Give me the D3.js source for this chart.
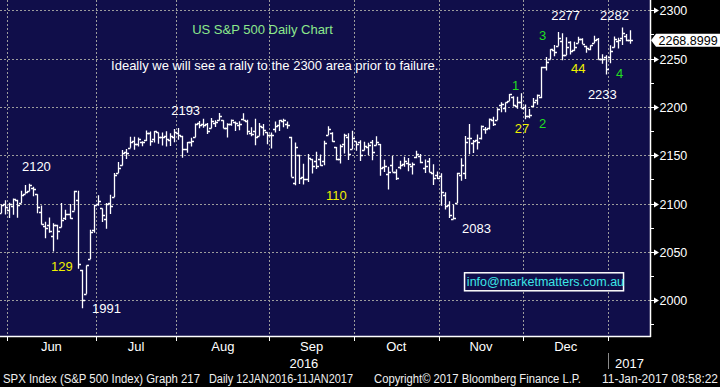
<!DOCTYPE html>
<html>
<head>
<meta charset="utf-8">
<script src="https://cdn.jsdelivr.net/npm/d3@7"></script>
<style>
  html, body { margin: 0; padding: 0; background: #000; }
  svg { display: block; font-family: "Liberation Sans", Arial, sans-serif; }
</style>
</head>
<body>
<div id="chart"></div>
<script>
// trading days shown: 2 in late May, then Jun..Dec, then Jan 2017
const leadDays = 2;
const monthNames = ["Jun", "Jul", "Aug", "Sep", "Oct", "Nov", "Dec", ""];
const monthDays = [22, 20, 23, 21, 21, 21, 21, 6];

// OHLC, 27 May 2016 -> 10 Jan 2017
const opens = [
  2090.1, 2100.1,
  2093.9, 2097.7, 2104.1, 2100.8, 2110.2, 2112.7, 2115.7, 2109.6, 2091.8, 2076.7, 2077.6, 2066.4, 2078.2, 2075.6, 2085.2, 2089.8, 2092.8, 2103.8, 2031.5, 2006.7, 2042.7, 2073.2,
  2099.3, 2095.1, 2084.4, 2100.4, 2107.0, 2131.7, 2139.5, 2153.8, 2157.9, 2165.1, 2162.0, 2163.8, 2166.1, 2172.9, 2166.5, 2173.7, 2169.0, 2169.8, 2166.1, 2168.8,
  2173.2, 2169.9, 2156.8, 2163.5, 2168.8, 2183.8, 2182.2, 2182.8, 2178.0, 2183.7, 2186.1, 2186.2, 2177.8, 2181.9, 2184.2, 2181.6, 2187.8, 2185.1, 2173.3, 2175.1, 2170.2, 2179.5, 2173.6,
  2171.3, 2177.5, 2181.6, 2185.2, 2182.8, 2169.1, 2120.9, 2150.5, 2127.9, 2125.4, 2146.5, 2144.0, 2145.9, 2144.6, 2170.9, 2173.3, 2158.5, 2146.0, 2161.9, 2168.9, 2156.5,
  2164.3, 2163.4, 2155.2, 2158.2, 2164.2, 2160.4, 2161.4, 2137.7, 2130.3, 2139.7, 2133.0, 2138.3, 2140.8, 2142.5, 2139.4, 2148.5, 2149.7, 2137.0, 2144.1, 2132.2, 2129.8,
  2128.7, 2109.4, 2098.8, 2083.8, 2100.6, 2129.9, 2131.6, 2167.5, 2162.7, 2165.6, 2168.3, 2177.5, 2178.6, 2186.9, 2186.4, 2201.6, 2198.6, 2206.3, 2210.2, 2200.8, 2205.0,
  2200.2, 2191.1, 2200.7, 2207.3, 2210.7, 2241.1, 2249.7, 2258.8, 2263.3, 2268.4, 2253.8, 2266.8, 2259.2, 2266.5, 2270.5, 2262.9, 2260.3, 2266.2, 2270.2, 2249.5, 2251.6,
  2251.6, 2261.6, 2268.2, 2271.1, 2273.6, 2269.7
];
const highs = [
  2099.1, 2103.5,
  2101.0, 2105.3, 2104.1, 2113.4, 2119.2, 2120.6, 2117.6, 2109.6, 2098.1, 2081.3, 2085.7, 2079.6, 2078.2, 2100.7, 2093.7, 2099.7, 2113.3, 2113.3, 2031.5, 2036.1, 2073.1, 2098.9,
  2108.7, 2095.1, 2100.7, 2109.1, 2131.7, 2143.2, 2155.4, 2156.5, 2169.1, 2169.1, 2168.4, 2164.6, 2175.6, 2174.6, 2175.1, 2173.7, 2173.5, 2175.0, 2172.9, 2177.1,
  2178.3, 2170.2, 2163.8, 2168.2, 2182.9, 2185.4, 2187.7, 2183.4, 2188.5, 2186.3, 2193.8, 2186.2, 2183.1, 2187.0, 2185.0, 2185.2, 2193.4, 2186.7, 2179.0, 2187.9, 2183.5, 2182.3, 2173.8,
  2173.6, 2184.9, 2186.6, 2187.9, 2184.9, 2169.1, 2163.3, 2150.5, 2141.3, 2151.3, 2146.5, 2153.6, 2150.8, 2165.1, 2180.0, 2173.8, 2158.5, 2161.1, 2172.4, 2172.7, 2175.3,
  2164.4, 2165.5, 2164.0, 2162.9, 2165.9, 2169.6, 2161.6, 2145.4, 2138.2, 2149.2, 2135.6, 2144.4, 2148.4, 2147.2, 2142.6, 2154.8, 2151.4, 2145.7, 2147.1, 2140.7, 2133.3,
  2131.5, 2111.8, 2102.6, 2099.1, 2132.0, 2146.9, 2170.1, 2182.3, 2165.9, 2171.4, 2180.8, 2179.2, 2188.1, 2189.9, 2198.7, 2204.8, 2204.7, 2213.4, 2211.1, 2210.5, 2214.1,
  2202.6, 2198.0, 2209.4, 2212.8, 2241.6, 2251.7, 2259.8, 2264.0, 2277.5, 2276.2, 2272.1, 2268.1, 2267.5, 2272.6, 2271.2, 2263.2, 2263.8, 2273.8, 2271.3, 2254.5, 2253.6,
  2263.9, 2272.8, 2271.5, 2282.1, 2275.5, 2279.3
];
const lows = [
  2090.1, 2088.7,
  2085.1, 2088.6, 2085.4, 2100.8, 2110.2, 2112.7, 2107.7, 2090.0, 2078.5, 2064.1, 2069.8, 2050.4, 2062.8, 2075.6, 2083.0, 2084.4, 2092.8, 2032.6, 1991.7, 2006.7, 2042.7, 2070.0,
  2097.9, 2080.9, 2074.0, 2089.4, 2107.0, 2131.7, 2139.5, 2146.2, 2157.9, 2155.8, 2159.1, 2159.4, 2164.9, 2159.8, 2163.2, 2162.0, 2160.2, 2159.1, 2159.7, 2163.5,
  2166.2, 2147.6, 2152.6, 2159.1, 2168.8, 2177.9, 2178.6, 2172.0, 2178.0, 2179.4, 2186.1, 2178.1, 2168.5, 2180.5, 2175.1, 2176.0, 2186.8, 2171.3, 2169.7, 2160.4, 2170.2, 2170.4, 2161.4,
  2157.1, 2173.6, 2175.1, 2179.1, 2177.5, 2127.8, 2119.1, 2120.3, 2119.9, 2122.4, 2131.2, 2135.9, 2139.2, 2139.6, 2170.9, 2164.0, 2145.0, 2141.6, 2151.8, 2145.2, 2156.5,
  2154.8, 2144.0, 2155.2, 2150.3, 2144.9, 2160.4, 2128.8, 2132.8, 2114.7, 2133.0, 2124.4, 2135.5, 2138.2, 2133.4, 2130.1, 2146.9, 2141.9, 2131.6, 2132.5, 2119.4, 2125.5,
  2097.9, 2094.0, 2085.2, 2083.8, 2100.6, 2123.6, 2125.4, 2151.2, 2152.5, 2156.1, 2166.4, 2172.2, 2176.7, 2180.4, 2186.4, 2194.5, 2194.5, 2206.3, 2200.4, 2198.2, 2198.8,
  2187.4, 2188.4, 2200.0, 2202.2, 2208.9, 2237.6, 2249.2, 2252.4, 2263.3, 2248.4, 2253.8, 2254.2, 2258.2, 2266.1, 2265.2, 2256.1, 2258.8, 2266.2, 2249.1, 2244.6, 2233.6,
  2245.1, 2261.6, 2260.5, 2264.1, 2268.0, 2265.3
];
const closes = [
  2099.1, 2097.0,
  2099.3, 2105.3, 2099.1, 2109.4, 2112.1, 2119.1, 2115.5, 2096.1, 2079.1, 2075.3, 2071.5, 2078.0, 2071.2, 2083.3, 2088.9, 2085.5, 2113.3, 2037.4, 2000.5, 2036.1, 2070.8, 2098.9,
  2103.0, 2088.6, 2099.7, 2097.9, 2129.9, 2137.2, 2152.1, 2152.4, 2163.8, 2161.7, 2166.9, 2163.8, 2173.0, 2165.2, 2175.0, 2168.5, 2169.2, 2166.6, 2170.1, 2173.6,
  2170.8, 2157.0, 2163.8, 2164.3, 2182.9, 2180.9, 2181.7, 2175.5, 2185.8, 2184.1, 2190.2, 2178.2, 2182.2, 2187.0, 2183.9, 2182.6, 2186.9, 2175.4, 2172.5, 2169.0, 2180.4, 2176.1, 2171.0,
  2170.9, 2180.0, 2186.5, 2186.2, 2181.3, 2127.8, 2159.0, 2127.0, 2125.8, 2147.3, 2139.2, 2139.1, 2139.8, 2163.1, 2177.2, 2164.7, 2146.1, 2159.9, 2171.4, 2151.1, 2168.3,
  2161.2, 2150.5, 2159.7, 2160.8, 2153.7, 2163.7, 2136.7, 2139.2, 2132.6, 2133.0, 2126.5, 2139.6, 2144.3, 2141.3, 2141.2, 2151.3, 2143.2, 2139.4, 2133.0, 2126.4, 2126.2,
  2111.7, 2097.9, 2088.7, 2085.2, 2131.5, 2139.6, 2163.3, 2167.5, 2164.5, 2164.2, 2180.4, 2176.9, 2187.1, 2181.9, 2198.2, 2202.9, 2204.7, 2213.4, 2201.7, 2204.7, 2198.8,
  2191.1, 2192.0, 2204.7, 2212.2, 2241.4, 2246.2, 2259.5, 2257.0, 2271.7, 2253.3, 2262.0, 2258.1, 2262.5, 2270.8, 2265.2, 2261.0, 2263.8, 2268.9, 2249.9, 2249.3, 2238.8,
  2257.8, 2270.8, 2269.0, 2277.0, 2268.9, 2268.9
];
const lastPrice = "2268.8999";

const yTicks = [2000, 2050, 2100, 2150, 2200, 2250, 2300];
const yMinor = [1975, 2025, 2075, 2125, 2175, 2225, 2275];

// text notes: day index / price level where they sit
const notes = [
  { t: "2120", k: 5.2, v: 2133.7, c: "#ffffff" },
  { t: "129", k: 12.4, v: 2030.3, c: "#f0f000" },
  { t: "1991", k: 22.6, v: 1986.9, c: "#ffffff" },
  { t: "2193", k: 42.2, v: 2191.7, c: "#ffffff" },
  { t: "110", k: 80.6, v: 2103.8, c: "#f0f000" },
  { t: "2083", k: 114.3, v: 2069.6, c: "#ffffff" },
  { t: "1", k: 126.7, v: 2217.5, c: "#22dd22" },
  { t: "27", k: 127.4, v: 2173.1, c: "#f0f000" },
  { t: "2", k: 133.4, v: 2178.2, c: "#22dd22" },
  { t: "3", k: 133.4, v: 2269.3, c: "#22dd22" },
  { t: "2277", k: 136.4, v: 2290.0, c: "#ffffff" },
  { t: "2282", k: 148.5, v: 2290.0, c: "#ffffff" },
  { t: "44", k: 141.3, v: 2235.1, c: "#f0f000" },
  { t: "4", k: 152.5, v: 2230.0, c: "#22dd22" },
  { t: "2233", k: 145.5, v: 2208.2, c: "#ffffff" },
  { t: "US S&P 500 Daily Chart", k: 47.4, v: 2275.0, c: "#8ce88c" },
  { t: "Ideally we will see a rally to the 2300 area prior to failure.", k: 27.3, v: 2238.2, c: "#ffffff" }
];

const width = 720, height = 387;
const pw = 650, ph = 336; // plot panel
const panelColor = "#100e4a";

const x = d3.scaleLinear().domain([-0.235, 160.9]).range([0, pw]);
const y = d3.scaleLinear().domain([1963.1, 2310.65]).range([ph, 0]);

const svg = d3.select("#chart").append("svg")
    .attr("width", width)
    .attr("height", height);

svg.append("rect").attr("width", width).attr("height", height).attr("fill", "#000");
svg.append("rect").attr("width", pw).attr("height", ph).attr("fill", panelColor);

svg.append("defs").append("clipPath").attr("id", "clip")
  .append("rect").attr("width", pw).attr("height", ph);

// month boundaries (day index where each month starts)
const monthStart = [];
let acc = leadDays;
monthDays.forEach(d => { monthStart.push(acc); acc += d; });
const bounds = monthStart.map(k => x(k - 0.5));

// grid
const grid = svg.append("g").attr("stroke", "#9c9c9c").attr("stroke-dasharray", "2,2").attr("stroke-width", 1);
yTicks.forEach(v => {
    const yy = Math.round(y(v)) + 0.5;
    grid.append("line").attr("x1", 0).attr("x2", pw).attr("y1", yy).attr("y2", yy);
});
bounds.forEach(bx => {
    const xx = Math.round(bx) + 0.5;
    grid.append("line").attr("x1", xx).attr("x2", xx).attr("y1", 0).attr("y2", ph);
});

// bars
const bars = svg.append("g").attr("clip-path", "url(#clip)")
    .attr("stroke", "#ffffff").attr("stroke-width", 1.3).attr("fill", "none");
closes.forEach((c, k) => {
    const cx = Math.round(x(k)) + 0.5;
    const yh = y(highs[k]), yl = y(lows[k]);
    const yo = Math.round(y(opens[k])) + 0.5, yc = Math.round(y(c)) + 0.5;
    bars.append("path")
        .attr("d", `M${cx},${yh}V${yl}M${cx - 2.5},${yo}H${cx}M${cx},${yc}H${cx + 2.5}`);
});

// notes
notes.forEach(n => {
    svg.append("text")
        .attr("x", x(n.k)).attr("y", y(n.v))
        .attr("fill", n.c).attr("font-size", 13)
        .text(n.t);
});

// email box
const box = svg.append("g");
box.append("rect").attr("x", x(114.8) + 0.5).attr("y", y(2029) + 0.5)
    .attr("width", 159).attr("height", 18)
    .attr("fill", panelColor).attr("stroke", "#ffffff").attr("stroke-width", 1.5);
box.append("text").attr("x", x(115.5)).attr("y", y(2015.3))
    .attr("fill", "#3ce6e6").attr("font-size", 12.5)
    .text("info@marketmatters.com.au");

// axes frame
svg.append("line").attr("x1", pw + 0.5).attr("x2", pw + 0.5).attr("y1", 0).attr("y2", ph + 1)
    .attr("stroke", "#fff").attr("stroke-width", 1.5);
svg.append("line").attr("x1", 0).attr("x2", pw + 1).attr("y1", ph + 0.5).attr("y2", ph + 0.5)
    .attr("stroke", "#fff").attr("stroke-width", 1.5);

// right axis
const ya = svg.append("g");
yTicks.forEach(v => {
    const yy = Math.round(y(v)) + 0.5;
    ya.append("path").attr("d", `M${pw},${yy}H${pw + 5}`).attr("stroke", "#fff");
    ya.append("path").attr("d", `M${pw + 4},${yy - 3}L${pw + 9},${yy}L${pw + 4},${yy + 3}Z`).attr("fill", "#fff");
    ya.append("text").attr("x", pw + 9.5).attr("y", yy + 4.5)
        .attr("fill", "#fff").attr("font-size", 12.5).text(v);
});
yMinor.forEach(v => {
    const yy = Math.round(y(v)) + 0.5;
    ya.append("path").attr("d", `M${pw},${yy}H${pw + 4}`).attr("stroke", "#fff");
});

// last price tag
const ly = y(+lastPrice);
ya.append("path")
    .attr("d", `M${pw + 1},${ly}L${pw + 6},${ly - 6.5}H${width}V${ly + 6.5}H${pw + 6}Z`)
    .attr("fill", "#fff");
ya.append("text").attr("x", pw + 8.5).attr("y", ly + 4.8)
    .attr("fill", "#000").attr("font-size", 12.5).text(lastPrice);

// bottom axis
const xa = svg.append("g");
bounds.forEach(bx => {
    const xx = Math.round(bx) + 0.5;
    xa.append("line").attr("x1", xx).attr("x2", xx).attr("y1", ph).attr("y2", ph + 5)
        .attr("stroke", "#fff");
});
monthNames.forEach((m, i) => {
    if (!m) return;
    xa.append("text")
        .attr("x", (bounds[i] + bounds[i + 1]) / 2).attr("y", 351)
        .attr("text-anchor", "middle").attr("fill", "#fff").attr("font-size", 13)
        .text(m);
});
xa.append("text").attr("x", x(75.1)).attr("y", 368)
    .attr("text-anchor", "middle").attr("fill", "#fff").attr("font-size", 13).text("2016");
const jan = Math.round(bounds[bounds.length - 1]) + 0.5;
xa.append("line").attr("x1", jan).attr("x2", jan).attr("y1", 353).attr("y2", 369)
    .attr("stroke", "#8a8a8a");
xa.append("text").attr("x", jan + 6.5).attr("y", 368)
    .attr("fill", "#fff").attr("font-size", 13).text("2017");

// footer
const footer = [
    { t: "SPX Index (S&P 500 Index) Graph 217", x: 3, w: 197 },
    { t: "Daily 12JAN2016-11JAN2017", x: 209, w: 144 },
    { t: "Copyright\u00a9 2017 Bloomberg Finance L.P.", x: 374, w: 207 },
    { t: "11-Jan-2017 08:58:22", x: 602, w: 116 }
];
footer.forEach(f => {
    svg.append("text").attr("x", f.x).attr("y", 383)
        .attr("fill", "#f0f0f0").attr("font-size", 12)
        .attr("textLength", f.w).attr("lengthAdjust", "spacingAndGlyphs")
        .text(f.t);
});
</script>
</body>
</html>
